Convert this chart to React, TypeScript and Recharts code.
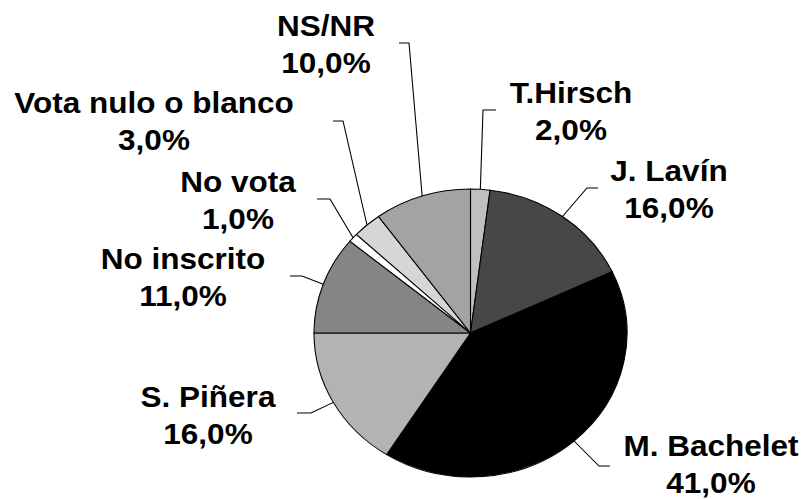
import React from 'react';
import { PieChart, Pie, Cell } from 'recharts';

// ---- data ----
const categories = ['T.Hirsch', 'J. Lavín', 'M. Bachelet', 'S. Piñera', 'No inscrito', 'No vota', 'Vota nulo o blanco', 'NS/NR'];
const values = [2, 16, 41, 16, 11, 1, 3, 10];
const colors = ['#BFBFBF', '#474747', '#000000', '#B3B3B3', '#858585', '#FFFFFF', '#D6D6D6', '#A3A3A3'];

// ---- layout (page pixels, offsets from the pie centre) ----
const S = 1.087; // horizontal stretch of the original picture
const PAGE_CX = 470.5;
const PAGE_CY = 333;
const RADIUS = 144;
const LINE_GAP = 37;
// text centre / first baseline, elbow corner, elbow end x
const labelLayout = [
  { tx: 100.5, ty: -230, kx: 12.5, ky: -223, ex: 25.5 },
  { tx: 198.5, ty: -152, kx: 116.5, ky: -145, ex: 127.5 },
  { tx: 240.5, ty: 123, kx: 128.5, ky: 133, ex: 139.5 },
  { tx: -262.5, ty: 74, kx: -159.5, ky: 80, ex: -173.5 },
  { tx: -287.5, ty: -64, kx: -168.5, ky: -57, ex: -180.5 },
  { tx: -232.5, ty: -141, kx: -140.5, ky: -134, ex: -153.5 },
  { tx: -316.5, ty: -220, kx: -127.5, ky: -212, ex: -137.5 },
  { tx: -144.5, ty: -297, kx: -61.5, ky: -290, ex: -71.5 },
];

const data = categories.map((name, i) => ({ name, value: values[i] }));

const W = Math.round(805 / S);
const H = 499;
const RAD = Math.PI / 180;
const FONT = "'Liberation Sans', Arial, sans-serif";

const fmt = (v: number) => v.toFixed(1).replace('.', ',') + '%';

const renderLabel = (props: any) => {
  const { cx, cy, midAngle, outerRadius, index, name, value } = props;
  const L = labelLayout[index];
  const px = cx + outerRadius * Math.cos(-midAngle * RAD);
  const py = cy + outerRadius * Math.sin(-midAngle * RAD);
  const kx = cx + L.kx / S;
  const ky = cy + L.ky;
  const ex = cx + L.ex / S;
  const tx = cx + L.tx / S;
  const ty = cy + L.ty;
  return (
    <g>
      <polyline points={`${px},${py} ${kx},${ky} ${ex},${ky}`} fill="none" stroke="#000" strokeWidth={1} />
      <text x={tx} y={ty} textAnchor="middle" fontFamily={FONT} fontWeight="bold" fontSize={29} fill="#000">
        {name}
      </text>
      <text x={tx} y={ty + LINE_GAP} textAnchor="middle" fontFamily={FONT} fontWeight="bold" fontSize={29} fill="#000">
        {fmt(value)}
      </text>
    </g>
  );
};

export default function App() {
  return (
    <div style={{ position: 'absolute', left: 0, top: 0, width: W, height: H, transform: `scaleX(${S})`, transformOrigin: '0 0', background: '#fff' }}>
      <PieChart width={W} height={H} margin={{ top: 0, right: 0, bottom: 0, left: 0 }}>
        <Pie
          data={data}
          dataKey="value"
          nameKey="name"
          cx={PAGE_CX / S}
          cy={PAGE_CY}
          outerRadius={RADIUS}
          innerRadius={0}
          startAngle={90}
          endAngle={-270}
          stroke="#000"
          strokeWidth={1}
          label={renderLabel}
          labelLine={false}
          isAnimationActive={false}
        >
          {data.map((d, i) => (
            <Cell key={d.name} fill={colors[i]} />
          ))}
        </Pie>
      </PieChart>
    </div>
  );
}
